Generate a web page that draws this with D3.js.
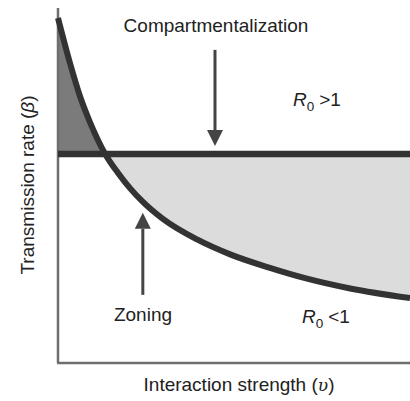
<!DOCTYPE html>
<html><head><meta charset="utf-8">
<script src="https://cdn.jsdelivr.net/npm/d3@7"></script>
<style>
html,body{margin:0;padding:0;background:#fff;}
svg{display:block;}
text{font-family:"Liberation Sans",Arial,Helvetica,sans-serif;fill:#222;}
</style></head>
<body><svg id="chart" width="410" height="401"></svg>
<script>
// Interaction strength (x, relative units 0-100)
const curveX = [0, 3.4, 6.3, 9.1, 13.4, 17.0, 20.5, 23.9, 29.8, 39.5, 48.9, 60.2, 70.2, 83.0, 100];
// Transmission rate threshold curve (y, relative units 0-100)
const curveY = [97.2, 84.5, 75.0, 67.8, 58.9, 53.6, 49.2, 45.6, 40.6, 34.8, 30.6, 26.8, 23.9, 21.0, 18.3];
// Compartmentalization threshold (horizontal line)
const lineLevel = 58.9;
const xDomain = [0, 100];
const yDomain = [0, 100];

const svg = d3.select("#chart");
const m = {left: 58, right: 0, top: 8, bottom: 38};
const W = 410, H = 401;
const x = d3.scaleLinear().domain(xDomain).range([m.left, W - m.right]);
const y = d3.scaleLinear().domain(yDomain).range([H - m.bottom, m.top]);

const pts = curveX.map((v, i) => ({x: v, y: curveY[i]}));

const defs = svg.append("defs");
defs.append("clipPath").attr("id", "above").append("rect")
  .attr("x", x(0)).attr("y", 0).attr("width", x(100) - x(0)).attr("height", y(lineLevel));
defs.append("clipPath").attr("id", "below").append("rect")
  .attr("x", x(0)).attr("y", y(lineLevel)).attr("width", x(100) - x(0)).attr("height", H - y(lineLevel));

const area = d3.area().x(d => x(d.x)).y0(y(lineLevel)).y1(d => y(d.y)).curve(d3.curveMonotoneX);
svg.append("path").datum(pts).attr("d", area).attr("fill", "#7b7b7b").attr("clip-path", "url(#above)");
svg.append("path").datum(pts).attr("d", area).attr("fill", "#dcdcdc").attr("clip-path", "url(#below)");

// axes (plain lines, no ticks)
svg.append("line").attr("x1", x(0)).attr("x2", x(0)).attr("y1", y(100)).attr("y2", y(0))
  .attr("stroke", "#6e6e6e").attr("stroke-width", 2.5);
svg.append("line").attr("x1", x(0) - 1).attr("x2", x(100)).attr("y1", y(0)).attr("y2", y(0))
  .attr("stroke", "#6e6e6e").attr("stroke-width", 2.5);

// horizontal threshold line
svg.append("line").attr("x1", x(0)).attr("x2", x(100)).attr("y1", y(lineLevel)).attr("y2", y(lineLevel))
  .attr("stroke", "#333").attr("stroke-width", 6.5);

// curve
const line = d3.line().x(d => x(d.x)).y(d => y(d.y)).curve(d3.curveMonotoneX);
svg.append("path").datum(pts).attr("d", line).attr("fill", "none")
  .attr("stroke", "#333").attr("stroke-width", 6);

// arrows
function arrow(xv, yFrom, yTo) {
  const x0 = x(xv), y0 = y(yFrom), y1 = y(yTo);
  const dir = y1 > y0 ? 1 : -1;
  const head = 16, hw = 8;
  svg.append("line").attr("x1", x0).attr("x2", x0).attr("y1", y0).attr("y2", y1 - dir * head)
    .attr("stroke", "#444").attr("stroke-width", 3);
  svg.append("path").attr("d", `M${x0},${y1} L${x0 - hw},${y1 - dir * head} L${x0 + hw},${y1 - dir * head} Z`)
    .attr("fill", "#444");
}
arrow(44.6, 88.2, 61.1);   // compartmentalization
arrow(24.1, 19.2, 42.3);   // zoning

// labels
svg.append("text").attr("x", 216).attr("y", 32).attr("text-anchor", "middle")
  .attr("font-size", 19).text("Compartmentalization");
svg.append("text").attr("x", 143).attr("y", 321).attr("text-anchor", "middle")
  .attr("font-size", 19).text("Zoning");

function r0(xp, yp, rest) {
  const t = svg.append("text").attr("x", xp).attr("y", yp).attr("font-size", 19);
  t.append("tspan").attr("font-style", "italic").text("R");
  t.append("tspan").attr("font-size", 13.5).attr("dy", 5).text("0");
  t.append("tspan").attr("dy", -5).attr("dx", 5).text(rest);
}
r0(293, 106, ">1");
r0(302, 323, "<1");

const xl = svg.append("text").attr("x", 239).attr("y", 391).attr("text-anchor", "middle").attr("font-size", 19);
xl.append("tspan").text("Interaction strength (");
xl.append("tspan").attr("font-style", "italic").attr("font-family", "DejaVu Serif").attr("font-size", 17).text("υ");
xl.append("tspan").text(")");

const yl = svg.append("text").attr("transform", "translate(34,185) rotate(-90)").attr("text-anchor", "middle").attr("font-size", 19);
yl.append("tspan").text("Transmission rate (");
yl.append("tspan").attr("font-style", "italic").text("β");
yl.append("tspan").text(")");
</script></body></html>
